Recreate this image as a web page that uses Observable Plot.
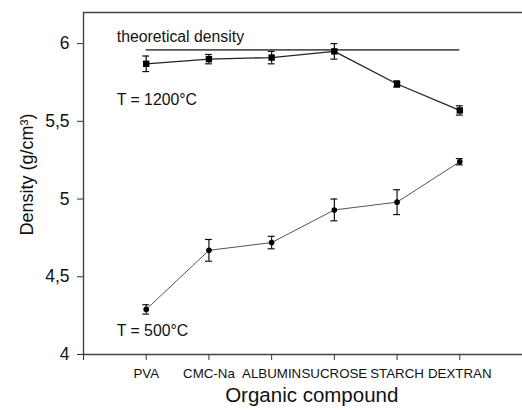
<!DOCTYPE html>
<html><head><meta charset="utf-8">
<script src="https://cdn.jsdelivr.net/npm/d3@7"></script>
<script src="https://cdn.jsdelivr.net/npm/@observablehq/plot@0.6"></script>
<style>body{margin:0;background:#fff}</style>
</head><body><div id="chart"></div>
<script>
const compounds = ["PVA","CMC-Na","ALBUMIN","SUCROSE","STARCH","DEXTRAN"];
const density1200 = [5.87,5.90,5.91,5.95,5.74,5.57];
const err1200 = [0.05,0.03,0.04,0.05,0.02,0.03];
const density500 = [4.29,4.67,4.72,4.93,4.98,5.24];
const err500 = [0.03,0.07,0.04,0.07,0.08,0.02];
const theoreticalDensity = 5.96;
const yTicks = [4,4.5,5,5.5,6];

const mk = (vals, errs) => vals.map((v,i)=>({x:i+1, y:v, e:errs[i], name:compounds[i]}));
const d1200 = mk(density1200, err1200);
const d500 = mk(density500, err500);
const both = d1200.concat(d500);
const font = "Liberation Sans, Arial, sans-serif";
const fmt = d => String(d).replace(".", ",");
const cap = 0.055;

const plot = Plot.plot({
  width: 522, height: 410,
  marginLeft: 83, marginTop: 12, marginBottom: 56, marginRight: 0,
  style: {fontFamily: font, color: "#111", background: "#fff"},
  x: {type:"linear", domain:[0,7]},
  y: {domain:[4,6.2]},
  marks: [
    Plot.ruleX([0], {stroke:"#444", strokeWidth:1.4}),
    Plot.ruleY([6.2], {stroke:"#444", strokeWidth:1.4}),
    Plot.ruleY([4], {stroke:"#444", strokeWidth:1.4}),
    Plot.axisY({ticks: yTicks, tickFormat: fmt, tickSize: 6, tickPadding: 8, fontSize: 17.5, label: null, stroke:"#333"}),
    Plot.axisX({ticks: [0,1,2,3,4,5,6], tickFormat: d => d === 0 ? "" : compounds[d-1], tickSize: 6, tickPadding: 8, fontSize: 13.3, label: null, stroke:"#333"}),
    Plot.ruleY([theoreticalDensity], {x1: 1, x2: 6, stroke:"#555", strokeWidth:1.8}),
    Plot.line(d1200, {x:"x", y:"y", stroke:"#222", strokeWidth:1.3}),
    Plot.line(d500, {x:"x", y:"y", stroke:"#555", strokeWidth:1}),
    Plot.ruleX(both, {x:"x", y1: d=>d.y-d.e, y2: d=>d.y+d.e, stroke:"#111", strokeWidth:1.2}),
    Plot.ruleY(both, {y: d=>d.y-d.e, x1: d=>d.x-cap, x2: d=>d.x+cap, stroke:"#111", strokeWidth:1.2}),
    Plot.ruleY(both, {y: d=>d.y+d.e, x1: d=>d.x-cap, x2: d=>d.x+cap, stroke:"#111", strokeWidth:1.2}),
    Plot.dot(d1200, {x:"x", y:"y", symbol:"square", r:3.6, fill:"#000"}),
    Plot.dot(d500, {x:"x", y:"y", r:2.8, fill:"#000"}),
    Plot.text(["theoretical density"], {x:0.53, y:6.04, text:d=>d, textAnchor:"start", fontSize:15.8, fill:"#111"}),
    Plot.text(["T = 1200°C"], {x:0.53, y:5.64, text:d=>d, textAnchor:"start", fontSize:15.8, fill:"#111"}),
    Plot.text(["T = 500°C"], {x:0.53, y:4.15, text:d=>d, textAnchor:"start", fontSize:15.8, fill:"#111"}),
    Plot.text(["Density (g/cm³)"], {frameAnchor:"left", y:5.158, dx:-56, rotate:-90, textAnchor:"middle", lineAnchor:"middle", text:d=>d, fontSize:18, fill:"#111"}),
    Plot.text(["Organic compound"], {frameAnchor:"bottom", x:3.64, dy:41, textAnchor:"middle", lineAnchor:"middle", text:d=>d, fontSize:20.5, fill:"#111"})
  ]
});
document.getElementById("chart").append(plot);
</script>
</body></html>
